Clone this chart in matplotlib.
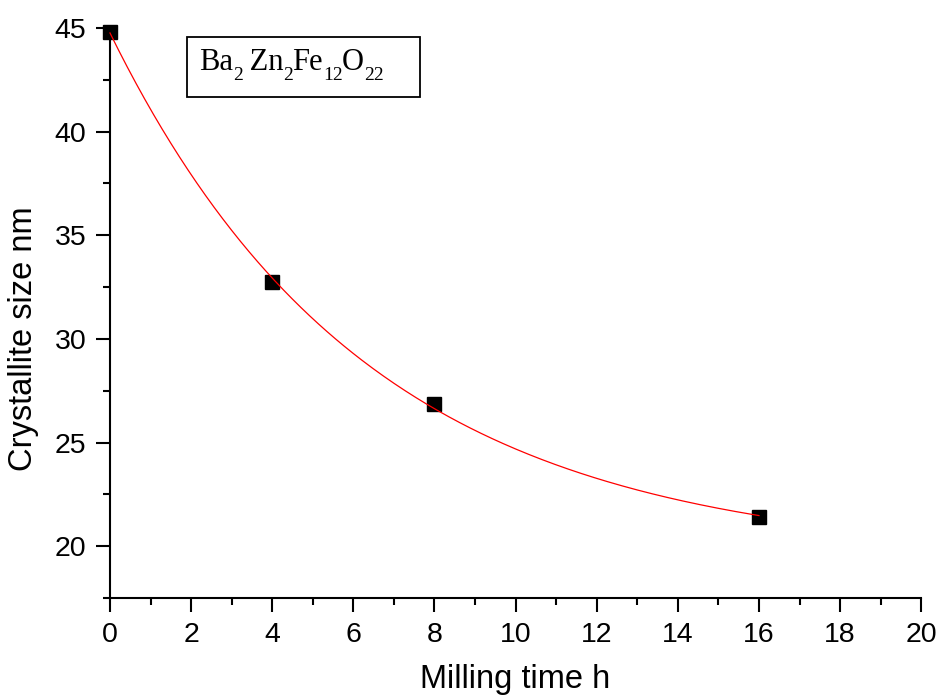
import numpy as np
import matplotlib
matplotlib.use("Agg")
from matplotlib import pyplot as plt
from matplotlib.ticker import MultipleLocator
from matplotlib.patches import Rectangle

# measured points
milling_time = [0, 4, 8, 16]
crystallite_size = [44.8, 32.75, 26.85, 21.4]

xticks = [0, 2, 4, 6, 8, 10, 12, 14, 16, 18, 20]
yticks = [20, 25, 30, 35, 40, 45]

# formula label, (text, is_subscript)
formula = [("Ba", False), ("2", True), (" Zn", False), ("2", True),
	("Fe", False), ("12", True), ("O", False), ("22", True)]

plt.rcParams['font.family'] = ['Liberation Sans', 'DejaVu Sans']


def exp_decay_fit(x, y):
	# y = y0 + A*exp(-x/t), search t, linear lsq for y0 and A
	x = np.asarray(x, float)
	y = np.asarray(y, float)
	best = None
	for t in np.linspace(0.5, 30, 3000):
		M = np.column_stack([np.ones_like(x), np.exp(-x / t)])
		coef, res, _, _ = np.linalg.lstsq(M, y, rcond=None)
		err = np.sum((M @ coef - y) ** 2)
		if best is None or err < best[0]:
			best = (err, t, coef)
	return best[1], best[2]


t, (y0, A) = exp_decay_fit(milling_time, crystallite_size)
xf = np.linspace(min(milling_time), max(milling_time), 300)
yf = y0 + A * np.exp(-xf / t)

fig = plt.figure(figsize=(9.4, 6.98), dpi=100)
ax = fig.add_axes([0.117, 0.1433, 0.863, 0.8167])

ax.plot(milling_time, crystallite_size, 's', color='black', markersize=10.5, zorder=2, clip_on=False)
ax.plot(xf, yf, '-', color='red', linewidth=0.9, zorder=3, clip_on=False)

ax.set_xlim(0, 20)
ax.set_ylim(17.5, 45)
ax.set_xticks(xticks)
ax.set_yticks(yticks)
ax.xaxis.set_minor_locator(MultipleLocator(1))
ax.yaxis.set_minor_locator(MultipleLocator(2.5))

for s in ['top', 'right']:
	ax.spines[s].set_visible(False)
for s in ['left', 'bottom']:
	ax.spines[s].set_linewidth(1.5)

ax.tick_params(which='major', direction='out', length=10, width=1.5, labelsize=20.5, pad=7)
ax.tick_params(which='minor', direction='out', length=5, width=1.5)

ax.set_xlabel("Milling time h", fontsize=23.5, labelpad=12)
ax.set_ylabel("Crystallite size nm", fontsize=23.5)
ax.yaxis.set_label_coords(-0.088, 0.454)

# formula box
ax.add_patch(Rectangle((0.095, 0.879), 0.287, 0.105, transform=ax.transAxes,
	facecolor='white', edgecolor='black', linewidth=1.3, clip_on=False, zorder=4))

# formula text, pieces laid out in pixels so subscripts sit low
renderer = fig.canvas.get_renderer()
x0, y0_base = ax.transAxes.transform((0.110, 0.926))
xpos = x0
for txt, sub in formula:
	size = 14 if sub else 22
	ypos = y0_base - 10 if sub else y0_base
	tt = fig.text(xpos, ypos, txt, transform=None, fontsize=size,
		family='Liberation Serif', va='baseline', ha='left', zorder=5)
	xpos += tt.get_window_extent(renderer).width - (1 if sub else 0)

fig.savefig("out.png", dpi=100)
